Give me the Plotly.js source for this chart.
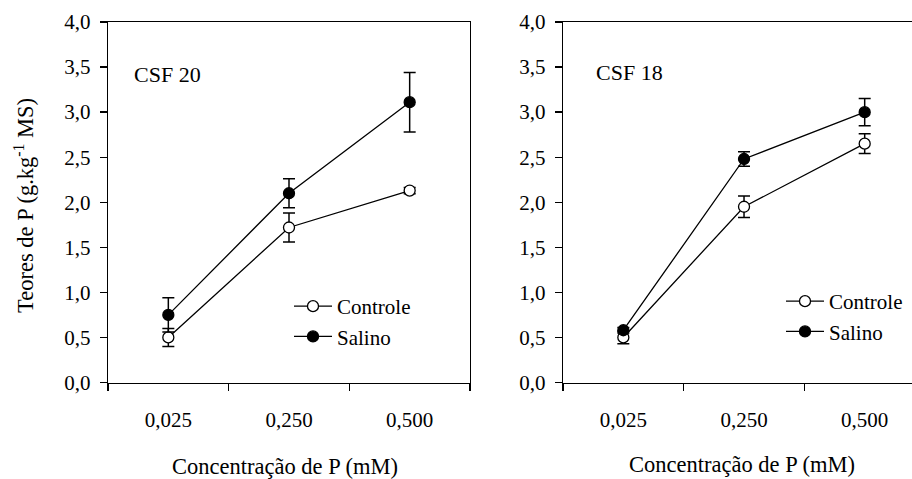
<!DOCTYPE html>
<html>
<head>
<meta charset="utf-8">
<script src="https://cdn.plot.ly/plotly-3.0.1.min.js"></script>
<style>html,body{margin:0;padding:0;background:#fff;}#chart{width:912px;height:479px;}</style>
</head>
<body>
<div id="chart"></div>
<script>
const categories = ["0,025", "0,250", "0,500"];
const csf20Controle = [0.50, 1.72, 2.13];
const csf20ControleErr = [0.10, 0.16, 0.035];
const csf20Salino = [0.75, 2.10, 3.11];
const csf20SalinoErr = [0.19, 0.16, 0.33];
const csf18Controle = [0.50, 1.95, 2.65];
const csf18ControleErr = [0.07, 0.12, 0.11];
const csf18Salino = [0.58, 2.48, 3.00];
const csf18SalinoErr = [0.03, 0.08, 0.15];
const yTickVals = [0, 0.5, 1, 1.5, 2, 2.5, 3, 3.5, 4];
const yTickText = ["0,0", "0,5", "1,0", "1,5", "2,0", "2,5", "3,0", "3,5", "4,0"];

const FONT = "Liberation Serif";
const W = 912, H = 479;
const px = v => v / W;
const py = v => (H - v) / H;

function tr(x, y, err, name, filled, xa, ya, leg, grp) {
  return {
    type: "scatter", mode: "lines+markers", x: x, y: y, name: name,
    xaxis: xa, yaxis: ya, legend: leg, legendgroup: grp,
    line: {color: "#000", width: 1.3},
    marker: {size: 11, symbol: "circle", color: filled ? "#000" : "#fff", line: {color: "#000", width: 1.3}},
    error_y: {type: "data", array: err, visible: true, color: "#000", thickness: 1.5, width: 6}
  };
}

const data = [
  tr(categories, csf20Controle, csf20ControleErr, "Controle", false, "x", "y", "legend", "a"),
  tr(categories, csf20Salino, csf20SalinoErr, "Salino", true, "x", "y", "legend", "b"),
  tr(categories, csf18Controle, csf18ControleErr, "Controle", false, "x2", "y2", "legend2", "c"),
  tr(categories, csf18Salino, csf18SalinoErr, "Salino", true, "x2", "y2", "legend2", "d")
];

const yDomain = [py(382.5), py(22)];
const xCommon = {
  type: "category", tickson: "boundaries", ticks: "outside", ticklen: 7, tickwidth: 1.3,
  tickcolor: "#000", showline: true, linecolor: "#000", linewidth: 1.3, showgrid: false,
  zeroline: false, tickfont: {family: FONT, size: 21, color: "#000"}, ticklabelstandoff: 18,
  fixedrange: true
};
const yCommon = {
  range: [0, 4], tickvals: yTickVals, ticktext: yTickText, ticks: "outside", ticklen: 7,
  tickwidth: 1.3, tickcolor: "#000", showline: true, linecolor: "#000", linewidth: 1.3,
  showgrid: false, zeroline: false, tickfont: {family: FONT, size: 21, color: "#000"},
  ticklabelstandoff: 5, domain: yDomain, fixedrange: true
};

const legendCommon = {
  font: {family: FONT, size: 21, color: "#000"}, bgcolor: "rgba(0,0,0,0)", borderwidth: 0,
  tracegroupgap: 9, xanchor: "left", yanchor: "top", traceorder: "normal", itemwidth: 38
};

const layout = {
  width: W, height: H, margin: {l: 0, r: 0, t: 0, b: 0},
  paper_bgcolor: "#fff", plot_bgcolor: "#fff", showlegend: true,
  font: {family: FONT, size: 21, color: "#000"},
  xaxis: Object.assign({}, xCommon, {domain: [px(108), px(470)], range: [-0.5, 2.5], mirror: true, anchor: "y"}),
  yaxis: Object.assign({}, yCommon, {mirror: true, anchor: "x"}),
  xaxis2: Object.assign({}, xCommon, {domain: [px(563), 1], range: [-0.5, 2.392], mirror: true, anchor: "y2"}),
  yaxis2: Object.assign({}, yCommon, {anchor: "x2"}),
  legend: Object.assign({}, legendCommon, {x: px(289), y: py(286)}),
  legend2: Object.assign({}, legendCommon, {x: px(781), y: py(281)}),
  annotations: [
    {text: "CSF 20", xref: "paper", yref: "paper", x: px(132), y: py(74), xanchor: "left", yanchor: "middle", showarrow: false, font: {family: FONT, size: 22, color: "#000"}},
    {text: "CSF 18", xref: "paper", yref: "paper", x: px(594), y: py(72), xanchor: "left", yanchor: "middle", showarrow: false, font: {family: FONT, size: 22, color: "#000"}},
    {text: "Concentração de P (mM)", xref: "paper", yref: "paper", x: px(285), y: py(466), xanchor: "center", yanchor: "middle", showarrow: false, font: {family: FONT, size: 22.5, color: "#000"}},
    {text: "Concentração de P (mM)", xref: "paper", yref: "paper", x: px(742), y: py(464), xanchor: "center", yanchor: "middle", showarrow: false, font: {family: FONT, size: 22.5, color: "#000"}},
    {text: "Teores de P (g.kg<sup>-1</sup> MS)", xref: "paper", yref: "paper", x: px(24), y: py(206), xanchor: "center", yanchor: "middle", textangle: -90, showarrow: false, font: {family: FONT, size: 22.5, color: "#000"}}
  ]
};

Plotly.newPlot("chart", data, layout, {displayModeBar: false, staticPlot: true});
</script>
</body>
</html>
